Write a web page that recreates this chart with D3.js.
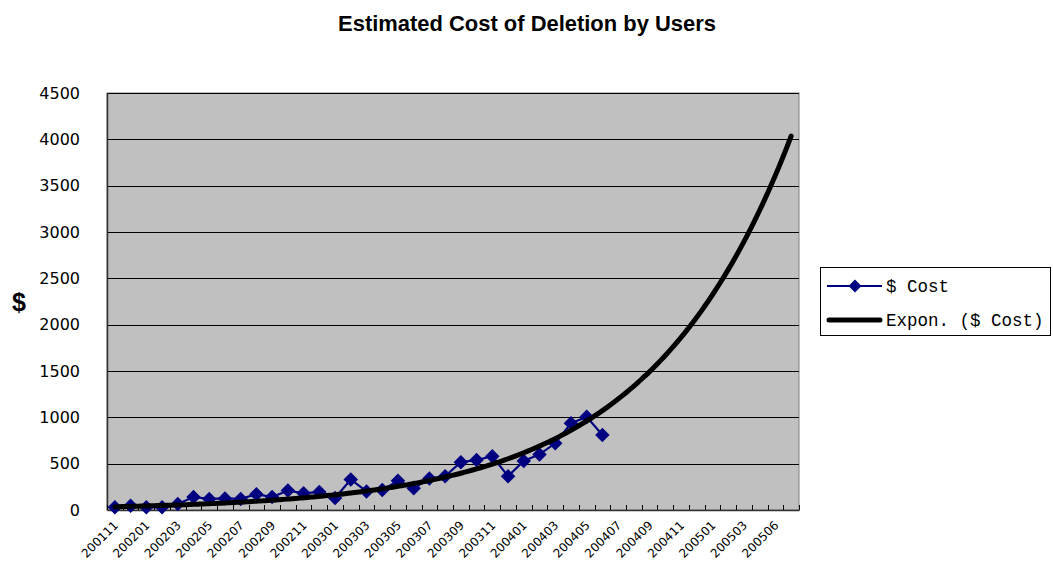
<!DOCTYPE html>
<html>
<head>
<meta charset="utf-8">
<script src="https://cdn.jsdelivr.net/npm/d3@7"></script>
<style>
  html, body { margin: 0; padding: 0; background: #fff; }
  svg { display: block; }
</style>
</head>
<body>
<svg id="chart" width="1053" height="563"></svg>
<script>
// ---- data ----
const categories = [
  "200111","200112",
  "200201","200202","200203","200204","200205","200206","200207","200208","200209","200210","200211","200212",
  "200301","200302","200303","200304","200305","200306","200307","200308","200309","200310","200311","200312",
  "200401","200402","200403","200404","200405","200406","200407","200408","200409","200410","200411","200412",
  "200501","200502","200503","200505","200506","200507"
];
const costValues = [
  30, 45, 30, 30, 65, 140, 120, 125, 120, 170, 140, 210, 180, 195, 130, 330,
  200, 215, 315, 235, 340, 365, 515, 540, 580, 365, 530, 600, 720, 935, 1005, 810
];
const yTicks = [0, 500, 1000, 1500, 2000, 2500, 3000, 3500, 4000, 4500];
// exponential trendline (Excel "Expon." with 12-period forecast), coefficients
const trendStart = 35;      // trend value at first category
const trendGrowth = 0.1104; // growth rate per category
const legendLabels = ["$ Cost", "Expon. ($ Cost)"];
const titleText = "Estimated Cost of Deletion by Users";

// ---- drawing ----
const svg = d3.select("#chart");
const plot = { left: 107, right: 799, top: 93, bottom: 510 };

const x = d3.scaleBand().domain(categories).range([plot.left, plot.right]).padding(0);
const cx = d => x(d) + x.bandwidth() / 2;
const y = d3.scaleLinear().domain([0, 4500]).range([plot.bottom, plot.top]);

// plot background
svg.append("rect")
  .attr("x", plot.left).attr("y", plot.top)
  .attr("width", plot.right - plot.left).attr("height", plot.bottom - plot.top)
  .attr("fill", "#c0c0c0").attr("stroke", "#808080").attr("stroke-width", 1);

// gridlines
svg.append("g").selectAll("line").data(yTicks.filter(v => v > 0)).join("line")
  .attr("x1", plot.left).attr("x2", plot.right)
  .attr("y1", d => Math.round(y(d)) + 0.5).attr("y2", d => Math.round(y(d)) + 0.5)
  .attr("stroke", "#000").attr("stroke-width", 1);

// y axis
const yAxis = svg.append("g").attr("transform", `translate(${plot.left},0)`)
  .call(d3.axisLeft(y).tickValues(yTicks).tickSize(0).tickPadding(27).tickFormat(d3.format("d")));
yAxis.select(".domain").attr("stroke", "#333").attr("stroke-width", 1.5);
yAxis.selectAll("text").attr("font-family", "DejaVu Sans").attr("font-size", 16).attr("fill", "#000");

// x axis (labels every other category)
const xAxis = svg.append("g").attr("transform", `translate(0,${plot.bottom})`)
  .call(d3.axisBottom(x).tickSize(0).tickFormat((d, i) => i % 2 === 0 ? d : ""));
xAxis.select(".domain").attr("stroke", "#333").attr("stroke-width", 1.5);
xAxis.selectAll("text")
  .attr("font-family", "DejaVu Sans").attr("font-size", 12).attr("fill", "#000")
  .attr("text-anchor", "end")
  .attr("dy", 0)
  .attr("y", 0)
  .attr("transform", "translate(4,16) rotate(-45)");

// inside tick marks at category boundaries
const boundaries = categories.map(c => x(c)).concat([plot.right]);
svg.append("g").selectAll("line").data(boundaries).join("line")
  .attr("x1", d => Math.round(d) + 0.5).attr("x2", d => Math.round(d) + 0.5)
  .attr("y1", plot.bottom).attr("y2", plot.bottom - 5)
  .attr("stroke", "#000").attr("stroke-width", 1);

// cost series
const costPts = costValues.map((v, i) => [cx(categories[i]), y(v)]);
svg.append("path")
  .attr("d", d3.line()(costPts))
  .attr("fill", "none").attr("stroke", "#000080").attr("stroke-width", 2.2);

svg.append("g").selectAll("path").data(costPts).join("path")
  .attr("d", d3.symbol().type(d3.symbolSquare).size(105))
  .attr("transform", d => `translate(${d[0]},${d[1]}) rotate(45)`)
  .attr("fill", "#000080");

// exponential trendline across all categories
const trendPts = d3.range(0, categories.length - 1 + 0.001, 0.25).map(t => {
  const px = cx(categories[0]) + t * x.step();
  return [px, y(trendStart * Math.exp(trendGrowth * t))];
});
svg.append("path")
  .attr("d", d3.line().curve(d3.curveMonotoneX)(trendPts))
  .attr("fill", "none").attr("stroke", "#000").attr("stroke-width", 5)
  .attr("stroke-linecap", "round");

// title
const title = svg.append("text")
  .attr("x", 527).attr("y", 31)
  .attr("text-anchor", "middle")
  .attr("font-family", "Liberation Sans, Arial, sans-serif")
  .attr("font-weight", "bold").attr("font-size", 20)
  .text(titleText);
const tl = title.node().getComputedTextLength();
title.attr("font-size", 20 * 378 / tl);

// y axis title
svg.append("text")
  .attr("x", 19).attr("y", 311)
  .attr("text-anchor", "middle")
  .attr("font-family", "Liberation Sans, Arial, sans-serif")
  .attr("font-weight", "bold").attr("font-size", 25)
  .text("$");

// legend
const lg = svg.append("g");
lg.append("rect").attr("x", 820.5).attr("y", 267.5).attr("width", 230).attr("height", 68)
  .attr("fill", "#fff").attr("stroke", "#000").attr("stroke-width", 1);
lg.append("line").attr("x1", 827).attr("x2", 882).attr("y1", 286).attr("y2", 286)
  .attr("stroke", "#000080").attr("stroke-width", 2);
lg.append("path").attr("d", d3.symbol().type(d3.symbolSquare).size(85))
  .attr("transform", "translate(855,286) rotate(45)").attr("fill", "#000080");
lg.append("line").attr("x1", 829).attr("x2", 880).attr("y1", 320).attr("y2", 320)
  .attr("stroke", "#000").attr("stroke-width", 5).attr("stroke-linecap", "round");
lg.selectAll("text").data(legendLabels).join("text")
  .attr("x", 886).attr("y", (d, i) => 292 + i * 34)
  .attr("font-family", "Liberation Mono, monospace").attr("font-size", 17.5).attr("fill", "#000")
  .text(d => d);
</script>
</body>
</html>
